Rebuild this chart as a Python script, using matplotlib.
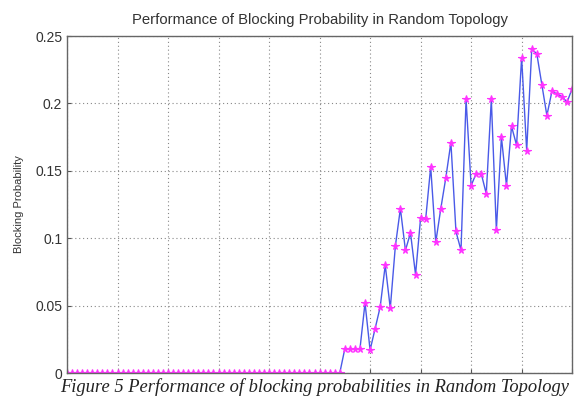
import numpy as np
import matplotlib
matplotlib.use("Agg")
import matplotlib.pyplot as plt

# blocking probability per run, first 55 runs have no blocking at all
zero_runs = [0.0] * 55
blocking_runs = [
	0.018, 0.018, 0.018, 0.018, 0.052, 0.017, 0.033, 0.049, 0.080, 0.048,
	0.094, 0.122, 0.091, 0.104, 0.073, 0.115, 0.114, 0.153, 0.097, 0.122,
	0.145, 0.171, 0.105, 0.091, 0.203, 0.139, 0.148, 0.148, 0.133, 0.203,
	0.106, 0.175, 0.139, 0.183, 0.169, 0.234, 0.165, 0.240, 0.237, 0.214,
	0.191, 0.209, 0.207, 0.205, 0.201, 0.211,
]
blocking = zero_runs + blocking_runs
runs = list(range(len(blocking)))

y_ticks = [0, 0.05, 0.1, 0.15, 0.2, 0.25]
y_tick_labels = ["0", "0.05", "0.1", "0.15", "0.2", "0.25"]

plt.rcParams["font.family"] = ["Liberation Sans", "DejaVu Sans"]

fig = plt.figure(figsize=(5.76, 3.98), dpi=100)
ax = fig.add_axes([0.1163, 0.0628, 0.877, 0.8467])

ax.plot(runs, blocking, color="#4a5ae8", linewidth=1.0,
		marker="*", markersize=5.5, markerfacecolor="#ff33ff",
		markeredgecolor="#ff33ff", markeredgewidth=0.8)

ax.set_xlim(0, 100)
ax.set_ylim(0, 0.25)
ax.set_xticks(np.arange(0, 101, 10))
ax.set_xticklabels([])
ax.set_yticks(y_ticks)
ax.set_yticklabels(y_tick_labels, fontsize=10, color="#333333")
ax.tick_params(direction="in", length=3, color="#555555")
ax.grid(True, linestyle=(0, (1, 2.5)), color="#888888", linewidth=0.8)
for s in ax.spines.values():
	s.set_color("#666666")
	s.set_linewidth(1.0)

ax.set_title("Performance of Blocking Probability in Random Topology",
			fontsize=10.7, color="#333333", pad=9)
ax.set_ylabel("Blocking Probability", fontsize=8, color="#333333", labelpad=8)

fig.text(0.104, 0.014, "Figure 5 Performance of blocking probabilities in Random Topology",
		family=["Liberation Serif", "DejaVu Serif"], style="italic",
		fontsize=13.3, color="#222222")

fig.savefig("out.png", dpi=100)
